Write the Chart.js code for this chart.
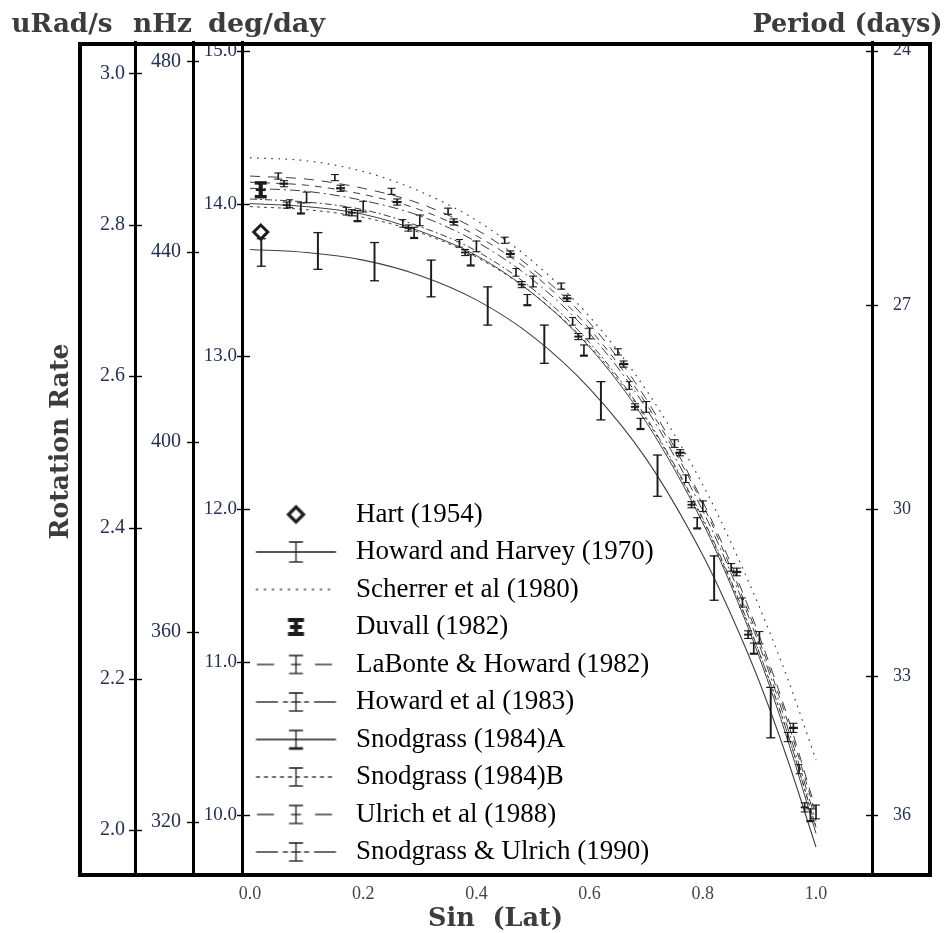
<!DOCTYPE html>
<html><head><meta charset="utf-8">
<script src="https://cdn.jsdelivr.net/npm/chart.js@4.4.1/dist/chart.umd.min.js"></script>
<style>
html,body{margin:0;padding:0;background:#fff;}
#wrap{position:relative;width:946px;height:933px;}
canvas{display:block;}
#ttl{position:absolute;left:0;top:0;pointer-events:none;}
</style></head><body>
<div id="wrap">
<canvas id="c" width="946" height="933"></canvas>
<svg id="ttl" width="946" height="933" xml:space="preserve" font-family="DejaVu Serif" font-weight="bold" font-size="26" fill="#3c3c3c">
<text x="62" y="32" text-anchor="middle" textLength="101" lengthAdjust="spacingAndGlyphs">uRad/s</text>
<text x="162.5" y="32" text-anchor="middle" textLength="59" lengthAdjust="spacingAndGlyphs">nHz</text>
<text x="266.5" y="32" text-anchor="middle" textLength="117" lengthAdjust="spacingAndGlyphs">deg/day</text>
<text x="847.5" y="32" text-anchor="middle" textLength="190" lengthAdjust="spacingAndGlyphs">Period (days)</text>
<text transform="translate(68,441.5) rotate(-90)" text-anchor="middle" textLength="196" lengthAdjust="spacingAndGlyphs">Rotation Rate</text>
<text x="495.5" y="926" text-anchor="middle" textLength="135" lengthAdjust="spacingAndGlyphs" style="white-space:pre">Sin  (Lat)</text>
</svg>
</div>
<script>
// ---------- tick labels ----------
const xTicks = [0, 0.2, 0.4, 0.6, 0.8, 1.0];
const degTicks = [10, 11, 12, 13, 14, 15];
const nHzTicks = [320, 360, 400, 440, 480];
const uRadTicks = [2.0, 2.2, 2.4, 2.6, 2.8, 3.0];
const periodTicks = [24, 27, 30, 33, 36];

// ---------- legend ----------
const legendNames = ["Hart (1954)", "Howard and Harvey (1970)", "Scherrer et al (1980)", "Duvall (1982)",
  "LaBonte & Howard (1982)", "Howard et al (1983)", "Snodgrass (1984)A", "Snodgrass (1984)B",
  "Ulrich et al (1988)", "Snodgrass & Ulrich (1990)"];

// ---------- fitted curves (deg/day) sampled on sin(lat) ----------
const sinGrid = [0, 0.1, 0.2, 0.3, 0.4, 0.5, 0.6, 0.7, 0.8, 0.85, 0.9, 0.95, 1.0];
const hhCurve       = [13.70, 13.68, 13.63, 13.53, 13.37, 13.13, 12.79, 12.33, 11.70, 11.31, 10.87, 10.36, 9.79];
const scherrerCurve = [14.30, 14.28, 14.21, 14.08, 13.89, 13.62, 13.26, 12.78, 12.16, 11.78, 11.36, 10.89, 10.36];
const labonteCurve  = [14.18, 14.16, 14.10, 14.00, 13.83, 13.57, 13.22, 12.72, 12.05, 11.64, 11.17, 10.64, 10.03];
const howard83Curve = [14.10, 14.08, 14.02, 13.92, 13.75, 13.50, 13.15, 12.66, 11.99, 11.58, 11.11, 10.57, 9.96];
const snodACurve    = [14.00, 13.98, 13.93, 13.82, 13.66, 13.41, 13.06, 12.57, 11.91, 11.50, 11.03, 10.49, 9.88];
const snodBCurve    = [13.98, 13.96, 13.91, 13.81, 13.65, 13.41, 13.07, 12.59, 11.93, 11.52, 11.06, 10.53, 9.92];
const ulrichCurve   = [14.14, 14.12, 14.06, 13.96, 13.79, 13.54, 13.18, 12.69, 12.03, 11.61, 11.14, 10.61, 10.00];
const suCurve       = [14.03, 14.01, 13.96, 13.85, 13.69, 13.44, 13.09, 12.60, 11.94, 11.53, 11.06, 10.53, 9.92];

// ---------- measured points with error bars ----------
const hartS = [0.019], hartV = [13.814];
const duvallS = [0.019], duvallV = [14.09], duvallH = [0.045];
const hhErrS = [0.02, 0.12, 0.22, 0.32, 0.42, 0.52, 0.62, 0.72, 0.82, 0.92];
const hhErrV = [13.68, 13.69, 13.62, 13.51, 13.33, 13.08, 12.71, 12.22, 11.55, 10.67];
const hhErrH = [0.09, 0.12, 0.125, 0.12, 0.125, 0.125, 0.125, 0.135, 0.145, 0.165];
const labonteErrS = [0.05, 0.15, 0.25, 0.35, 0.45, 0.55, 0.65, 0.75, 0.85, 0.95];
const labonteErrV = [14.18, 14.17, 14.08, 13.95, 13.76, 13.46, 13.03, 12.43, 11.62, 10.51];
const labonteErrH = [0.02, 0.02, 0.02, 0.02, 0.02, 0.02, 0.02, 0.025, 0.025, 0.03];
const howard83ErrS = [0.10, 0.20, 0.30, 0.40, 0.50, 0.60, 0.70, 0.80, 0.90, 1.00];
const howard83ErrV = [14.04, 13.98, 13.89, 13.72, 13.49, 13.15, 12.67, 12.02, 11.16, 10.02];
const howard83ErrH = [0.035, 0.035, 0.035, 0.035, 0.035, 0.035, 0.035, 0.035, 0.04, 0.045];
const snodAErrS = [0.09, 0.19, 0.29, 0.39, 0.49, 0.59, 0.69, 0.79, 0.89, 0.99];
const snodAErrV = [13.97, 13.92, 13.81, 13.63, 13.37, 13.04, 12.56, 11.91, 11.09, 10.00];
const snodAErrH = [0.035, 0.035, 0.035, 0.035, 0.035, 0.035, 0.035, 0.035, 0.035, 0.04];
const snodBErrS = [0.07, 0.17, 0.27, 0.37, 0.47, 0.57, 0.67, 0.77, 0.87, 0.97];
const snodBErrV = [14.00, 13.95, 13.87, 13.74, 13.55, 13.23, 12.81, 12.20, 11.39, 10.30];
const snodBErrH = [0.025, 0.025, 0.025, 0.025, 0.025, 0.025, 0.025, 0.025, 0.03, 0.03];
const ulrichErrS = [0.06, 0.16, 0.26, 0.36, 0.46, 0.56, 0.66, 0.76, 0.86, 0.96];
const ulrichErrV = [14.13, 14.10, 14.01, 13.88, 13.67, 13.38, 12.95, 12.37, 11.59, 10.57];
const ulrichErrH = [0.02, 0.02, 0.02, 0.02, 0.02, 0.02, 0.02, 0.02, 0.025, 0.03];
const suErrS = [0.065, 0.18, 0.28, 0.38, 0.48, 0.58, 0.68, 0.78, 0.88, 0.98];
const suErrV = [13.99, 13.94, 13.84, 13.68, 13.47, 13.13, 12.67, 12.03, 11.18, 10.05];
const suErrH = [0.02, 0.02, 0.02, 0.02, 0.02, 0.02, 0.02, 0.02, 0.025, 0.03];

// ---------- unit conversions to deg/day (axis placement only) ----------
const DEG_PER_URAD = 180 * 86400 / Math.PI * 1e-6;
const DEG_PER_NHZ = 360 * 86400 * 1e-9;
const Y_MIN = 9.601, Y_MAX = 15.057;

const INK = '#1c1c1c', CURVE = '#3f3f3f';
function curveDs(label, ys, dash, w) {
  return {type: 'line', label, data: sinGrid.map((x, i) => ({x, y: ys[i]})), borderColor: CURVE,
    borderWidth: w || 1, borderDash: dash, pointRadius: 0, fill: false, showLine: true,
    cubicInterpolationMode: 'monotone', order: 3};
}
function barDs(s, v, h, thick) {
  return {type: 'bar', data: s.map((x, i) => ({x, y: [v[i] - h[i], v[i] + h[i]]})), backgroundColor: INK,
    borderWidth: 0, barThickness: thick, grouped: false, order: 2};
}
function capDs(s, v, h, r, w, which) {
  const d = [];
  s.forEach((x, i) => {
    if (which !== 'hi') d.push({x, y: v[i] - h[i]});
    if (which !== 'lo') d.push({x, y: v[i] + h[i]});
  });
  return {type: 'scatter', data: d, pointStyle: 'line', pointRadius: r, pointHoverRadius: r,
    borderColor: INK, backgroundColor: INK, borderWidth: w, showLine: false, order: 1};
}
function markDs(s, v, r, w) {
  return {type: 'scatter', data: s.map((x, i) => ({x, y: v[i]})), pointStyle: 'line', pointRadius: r,
    pointHoverRadius: r, borderColor: INK, borderWidth: w, showLine: false, order: 1};
}

const datasets = [
  curveDs('Scherrer', scherrerCurve, [1.6, 5.5], 1.2),
  curveDs('LaBonte', labonteCurve, [10, 8], 1),
  curveDs('Ulrich', ulrichCurve, [7, 6], 1),
  curveDs('Howard83', howard83Curve, [10, 4, 2, 4], 1),
  curveDs('SU', suCurve, [7, 3, 2, 3], 1),
  curveDs('SnodA', snodACurve, [], 1),
  curveDs('SnodB', snodBCurve, [3, 4], 1),
  curveDs('HH', hhCurve, [], 1.1),
  barDs(hhErrS, hhErrV, hhErrH, 1.3), capDs(hhErrS, hhErrV, hhErrH, 4.5, 1.3),
  barDs(labonteErrS, labonteErrV, labonteErrH, 1), capDs(labonteErrS, labonteErrV, labonteErrH, 4, 1.1),
  barDs(howard83ErrS, howard83ErrV, howard83ErrH, 1), capDs(howard83ErrS, howard83ErrV, howard83ErrH, 4, 1.1),
  barDs(snodAErrS, snodAErrV, snodAErrH, 1), capDs(snodAErrS, snodAErrV, snodAErrH, 4, 1.1, 'hi'),
  capDs(snodAErrS, snodAErrV, snodAErrH, 4, 2.2, 'lo'),
  barDs(snodBErrS, snodBErrV, snodBErrH, 1), capDs(snodBErrS, snodBErrV, snodBErrH, 3.5, 1),
  barDs(ulrichErrS, ulrichErrV, ulrichErrH, 1), capDs(ulrichErrS, ulrichErrV, ulrichErrH, 4, 1.1), markDs(ulrichErrS, ulrichErrV, 4.5, 2.2),
  barDs(suErrS, suErrV, suErrH, 1), capDs(suErrS, suErrV, suErrH, 4, 1.1), markDs(suErrS, suErrV, 4, 1.8),
  barDs(duvallS, duvallV, duvallH, 3.5), capDs(duvallS, duvallV, duvallH, 6, 3.5), markDs(duvallS, duvallV, 5, 2.5),
  {type: 'scatter', data: hartS.map((x, i) => ({x, y: hartV[i]})), pointStyle: 'rectRot', pointRadius: 7,
    pointHoverRadius: 7, borderColor: INK, backgroundColor: '#fff', borderWidth: 3, showLine: false, order: 0}
];

// ---------- legend glyphs ----------
function glyph(kind) {
  const c = document.createElement('canvas');
  c.width = 100; c.height = 30;
  const g = c.getContext('2d');
  const cx = 48.5, cy = 15;
  g.strokeStyle = INK; g.lineWidth = 1.3;
  const seg = (x1, x2, dash) => { g.setLineDash(dash || []); g.beginPath(); g.moveTo(x1, cy); g.lineTo(x2, cy); g.stroke(); g.setLineDash([]); };
  const ibar = (h, cw, cross, boldBottom) => {
    g.beginPath(); g.moveTo(cx, cy - h); g.lineTo(cx, cy + h);
    g.moveTo(cx - cw, cy - h); g.lineTo(cx + cw, cy - h); g.stroke();
    g.lineWidth = boldBottom ? 2.6 : 1.3;
    g.beginPath(); g.moveTo(cx - cw, cy + h); g.lineTo(cx + cw, cy + h); g.stroke();
    g.lineWidth = 1.3;
    if (cross) { g.beginPath(); g.moveTo(cx - cross, cy); g.lineTo(cx + cross, cy); g.stroke(); }
  };
  if (kind === 'hart') {
    g.lineWidth = 3.2; g.beginPath();
    g.moveTo(cx, cy - 7.5); g.lineTo(cx + 7.5, cy); g.lineTo(cx, cy + 7.5); g.lineTo(cx - 7.5, cy); g.closePath(); g.stroke();
  } else if (kind === 'hh') {
    seg(8.5, 88.5); ibar(10, 7, 0);
  } else if (kind === 'scherrer') {
    seg(8.5, 88.5, [2, 6]);
  } else if (kind === 'duvall') {
    g.lineWidth = 4; g.beginPath();
    g.moveTo(cx, cy - 8); g.lineTo(cx, cy + 8);
    g.moveTo(cx - 8, cy - 7); g.lineTo(cx + 8, cy - 7);
    g.moveTo(cx - 8, cy + 7); g.lineTo(cx + 8, cy + 7);
    g.moveTo(cx - 6, cy); g.lineTo(cx + 6, cy); g.stroke();
  } else if (kind === 'dash') {
    seg(9.5, 26.5); seg(67.5, 84.5); ibar(9, 7, 5);
  } else if (kind === 'dashdot') {
    seg(8.5, 30.5); seg(35.5, 40.5); seg(56.5, 61.5); seg(66.5, 88.5); ibar(9, 7, 5);
  } else if (kind === 'solidA') {
    seg(8.5, 88.5); ibar(9, 7, 0, true);
  } else if (kind === 'dotB') {
    seg(8.5, 88.5, [4, 4]); ibar(9, 7, 0);
  }
  return c;
}
const legendKinds = ['hart', 'hh', 'scherrer', 'duvall', 'dash', 'dashdot', 'solidA', 'dotB', 'dash', 'dashdot'];
const glyphs = legendKinds.map(glyph);

// ---------- decorations: frame, crossing tick marks, legend placement ----------
const frameTicks = {
  id: 'frameTicks',
  afterLayout(chart) {
    const l = chart.legend, a = chart.chartArea;
    if (l) { l.top = a.top; l.bottom = a.bottom; }
  },
  afterDraw(chart) {
    const ctx = chart.ctx, a = chart.chartArea;
    const spec = {y: [-5, 8], yN: [-6, 6], yU: [-6, 7], yP: [-6, 6]};
    ctx.save();
    ctx.strokeStyle = '#000'; ctx.lineWidth = 1.4;
    for (const id in spec) {
      const s = chart.scales[id];
      const bx = s.position === 'left' ? s.right : s.left;
      s.ticks.forEach((t, i) => {
        const py = Math.round(s.getPixelForTick(i)) + 0.5;
        ctx.beginPath(); ctx.moveTo(bx + spec[id][0], py); ctx.lineTo(bx + spec[id][1], py); ctx.stroke();
      });
    }
    ctx.lineWidth = 4;
    ctx.strokeRect(80, a.top + 2, (a.right + 58) - 80, a.bottom - a.top - 3);
    ctx.restore();
  }
};

const NAVY = '#25305a';
function yAxis(pos, width, pad, ticksDeg, fmt, size) {
  return {
    type: 'linear', position: pos, min: Y_MIN, max: Y_MAX, bounds: 'data',
    grid: {display: false, drawTicks: false},
    border: {display: true, width: 3, color: '#000'},
    afterBuildTicks: s => { s.ticks = ticksDeg.map(v => ({value: v})); },
    afterFit: s => { s.width = width; },
    ticks: {autoSkip: false, padding: pad, color: NAVY, font: {family: 'Liberation Serif', size: size}, callback: fmt}
  };
}

new Chart(document.getElementById('c'), {
  type: 'scatter',
  data: {datasets},
  options: {
    responsive: false, animation: false, events: [],
    layout: {padding: {left: 0, right: 15, top: 42, bottom: 0}},
    plugins: {
      tooltip: {enabled: false},
      legend: {
        display: true, position: 'chartArea', align: 'end', onClick: null,
        labels: {
          usePointStyle: true, pointStyleWidth: 90, padding: 10.5, color: '#151515',
          font: {family: 'Liberation Serif', size: 27},
          generateLabels: () => legendNames.map((t, i) => ({text: t, pointStyle: glyphs[i], fillStyle: '#fff',
            strokeStyle: '#fff', lineWidth: 0, hidden: false, index: i}))
        }
      }
    },
    scales: {
      x: {
        type: 'linear', position: 'bottom', min: -0.0141, max: 1.0989, bounds: 'data', offset: false,
        grid: {display: false, drawTicks: false}, border: {display: false},
        afterBuildTicks: s => { s.ticks = xTicks.map(v => ({value: v})); },
        afterFit: s => { s.height = 57; },
        ticks: {autoSkip: false, maxRotation: 0, padding: 7, color: '#444', font: {family: 'Liberation Serif', size: 18},
          callback: v => v.toFixed(1)}
      },
      y: yAxis('left', 49, 5, degTicks, v => v.toFixed(1), 19),
      yN: yAxis('left', 58, 12, nHzTicks.map(n => n * DEG_PER_NHZ), (v, i) => String(nHzTicks[i]), 20),
      yU: yAxis('left', 135, 10, uRadTicks.map(u => u * DEG_PER_URAD), (v, i) => uRadTicks[i].toFixed(1), 20),
      yP: yAxis('right', 59, 21, periodTicks.map(p => 360 / p), (v, i) => String(periodTicks[i]), 18)
    }
  },
  plugins: [frameTicks]
});
</script>
</body></html>
